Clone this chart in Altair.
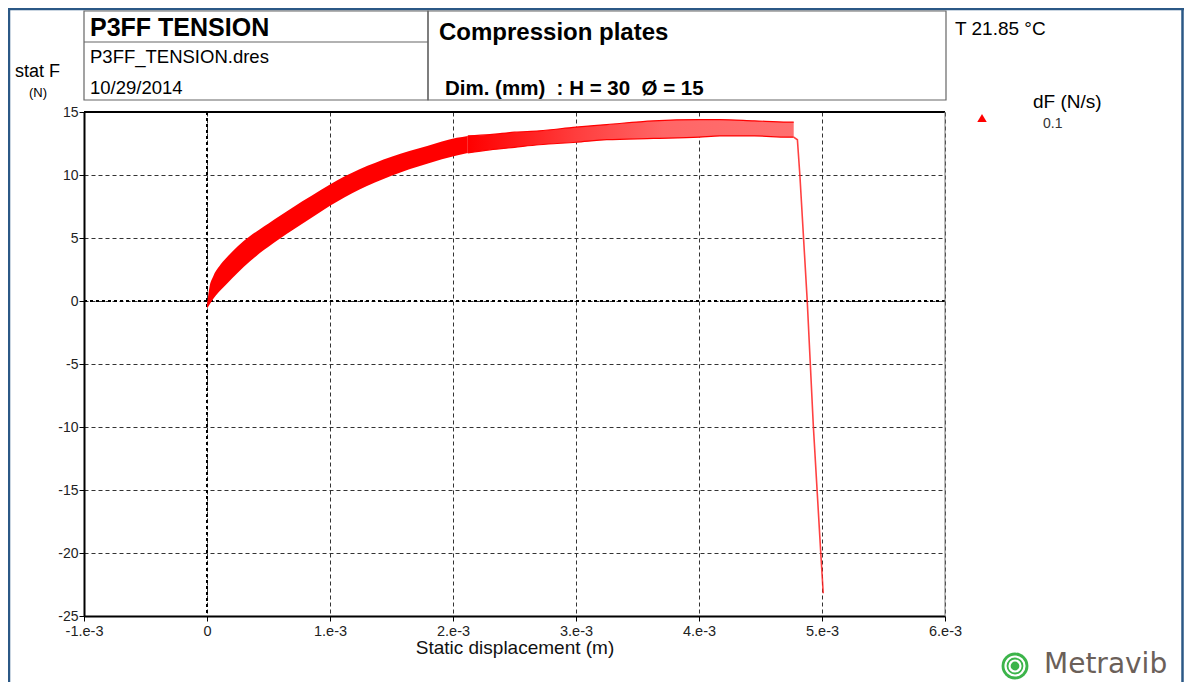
import altair as alt
import pandas as pd

# ---------------- data (x in units of 1e-3 m, y in N) ----------------
band_x = [0.00, 0.02, 0.05, 0.10, 0.16, 0.25, 0.35, 0.43, 0.50, 0.60, 0.70, 0.85, 1.00, 1.24, 1.50, 1.79, 2.03, 2.12]
band_hi = [-0.3, 1.1, 1.95, 2.75, 3.45, 4.35, 5.15, 5.7, 6.15, 6.8, 7.45, 8.35, 9.25, 10.45, 11.45, 12.3, 12.95, 13.1]
band_lo = [-0.6, -0.3, 0.15, 0.75, 1.35, 2.25, 3.15, 3.8, 4.3, 5.0, 5.65, 6.6, 7.55, 8.85, 9.95, 10.9, 11.55, 11.75]

plat_x = [2.12, 2.30, 2.50, 2.70, 3.00, 3.25, 3.63, 4.00, 4.17, 4.45, 4.72, 4.77]
plat_hi = [13.1, 13.2, 13.4, 13.5, 13.8, 14.0, 14.3, 14.4, 14.4, 14.3, 14.2, 14.2]
plat_lo = [11.75, 12.0, 12.2, 12.4, 12.6, 12.8, 12.9, 13.0, 13.1, 13.1, 13.0, 13.0]

drop_x = [4.77, 4.80, 4.82, 4.88, 4.93, 4.99, 5.01]
drop_y = [13.0, 12.8, 10.0, 0.0, -10.0, -20.0, -23.2]

x_ticks = [-1, 0, 1, 2, 3, 4, 5, 6]
y_ticks = [-25, -20, -15, -10, -5, 0, 5, 10, 15]

SCALE = 1e-3
band = pd.DataFrame({"x": [v * SCALE for v in band_x], "hi": band_hi, "lo": band_lo})
plat = pd.DataFrame({"x": [v * SCALE for v in plat_x], "hi": plat_hi, "lo": plat_lo})
drop = pd.DataFrame({"x": [v * SCALE for v in drop_x], "y": drop_y})
zero_x = pd.DataFrame({"x": [0.0]})
zero_y = pd.DataFrame({"y": [0.0]})
one = pd.DataFrame({"k": [0]})

W, H = 861, 504
FONT = "Liberation Sans"
RED = "#ff0000"

xsc = alt.Scale(domain=[x_ticks[0] * SCALE, x_ticks[-1] * SCALE], nice=False, zero=False)
ysc = alt.Scale(domain=[y_ticks[0], y_ticks[-1]], nice=False, zero=False)

xaxis = alt.Axis(
    values=[v * SCALE for v in x_ticks],
    labelExpr="datum.value == 0 ? '0' : round(datum.value * 1000) + '.e-3'",
    title="Static displacement (m)",
    titleFontSize=19, titleFontWeight="normal", titleColor="#111", titleFont=FONT,
    titleBaseline="alphabetic", titleY=37,
    labelFontSize=14.5, labelFont=FONT, labelColor="#222", labelPadding=3,
    labelOverlap=False, labelFlush=False,
    tickSize=5, tickColor="#000", tickWidth=1,
    domainColor="#000", domainWidth=2,
    grid=True, gridDash=[4, 3], gridColor="#333", gridWidth=1,
)
yaxis = alt.Axis(
    values=y_ticks, labelExpr="'' + datum.value", title=None,
    labelFontSize=14, labelFont=FONT, labelColor="#222", labelPadding=1,
    labelOverlap=False, labelFlush=False,
    tickSize=5, tickColor="#000", tickWidth=1,
    domainColor="#000", domainWidth=2,
    grid=True, gridDash=[4, 3], gridColor="#333", gridWidth=1,
)

def X(field="x"):
    return alt.X(f"{field}:Q", scale=xsc, axis=xaxis)

def Y(field):
    return alt.Y(f"{field}:Q", scale=ysc, axis=yaxis)

# zero lines (dotted, heavier)
zx = alt.Chart(zero_x).mark_rule(color="#000", strokeWidth=2, strokeDash=[3, 3]).encode(x=X())
zy = alt.Chart(zero_y).mark_rule(color="#000", strokeWidth=2, strokeDash=[3, 3]).encode(y=Y("y"))

band_area = alt.Chart(band).mark_area(color=RED, opacity=1, interpolate="monotone").encode(
    x=X(), y=Y("hi"), y2="lo:Q")

plat_grad = alt.Gradient(
    gradient="linear", x1=0, x2=1, y1=0, y2=0,
    stops=[
        alt.GradientStop(color="#ff0000", offset=0),
        alt.GradientStop(color="#ff1a1a", offset=0.15),
        alt.GradientStop(color="#ff3d3d", offset=0.33),
        alt.GradientStop(color="#ff6666", offset=0.6),
        alt.GradientStop(color="#ff7070", offset=1),
    ],
)
plat_area = alt.Chart(plat).mark_area(color=plat_grad, interpolate="monotone").encode(
    x=X(), y=Y("hi"), y2="lo:Q")
plat_top = alt.Chart(plat).mark_line(color=RED, strokeWidth=1.2, interpolate="monotone").encode(x=X(), y=Y("hi"))
plat_bot = alt.Chart(plat).mark_line(color=RED, strokeWidth=1.2, interpolate="monotone").encode(x=X(), y=Y("lo"))
drop_line = alt.Chart(drop).mark_line(color="#ff2020", strokeWidth=1.6, opacity=0.85).encode(x=X(), y=Y("y"))

# ---------------- decorations (pixel positions relative to plot area) ----------------
def txt(s, x, y, size, weight="normal", color="#000", font=FONT, align="left"):
    return alt.Chart(one).mark_text(text=s, align=align, baseline="alphabetic", fontSize=size,
                                    fontWeight=weight, color=color, font=font).encode(
        x=alt.value(x), y=alt.value(y))

def hline(x1, x2, y, color, w):
    return alt.Chart(one).mark_rule(color=color, strokeWidth=w).encode(
        x=alt.value(x1), x2=alt.value(x2), y=alt.value(y))

def vline(x, y1, y2, color, w):
    return alt.Chart(one).mark_rule(color=color, strokeWidth=w).encode(
        x=alt.value(x), y=alt.value(y1), y2=alt.value(y2))

def box(x1, y1, x2, y2, color, w):
    return alt.Chart(one).mark_rect(fillOpacity=0, stroke=color, strokeWidth=w).encode(
        x=alt.value(x1), x2=alt.value(x2), y=alt.value(y1), y2=alt.value(y2))

BLUE = "#2b5886"
NB = "\u00a0"
deco = [
    # outer frame
    hline(-76, 1100, -103, BLUE, 2.5),
    vline(-75, -104, 570, BLUE, 2.5),
    vline(1098.5, -104, 570, BLUE, 2.5),
    # plot frame top / right
    hline(0, W, 0, "#000", 2.2),
    vline(W, 0, H, "#777", 1),
    # header boxes
    box(0, -101, 344, -12, "#666", 1.2),
    hline(0, 344, -70, "#666", 1.2),
    box(344, -101, 862, -12, "#666", 1.2),
    txt("P3FF TENSION", 6, -76, 25, "bold"),
    txt("P3FF_TENSION.dres", 6, -49, 18.5),
    txt("10/29/2014", 6, -18, 18.5),
    txt("Compression plates", 355, -72, 24, "bold"),
    txt(f"Dim. (mm){NB}{NB}: H = 30{NB}{NB}\u00d8 = 15", 361, -17, 20.5, "bold"),
    txt("T 21.85 \u00b0C", 871, -77, 19),
    txt("stat F", -69, -35, 18),
    txt("(N)", -55, -15, 13),
    # legend
    txt("dF (N/s)", 949, -4, 19),
    txt("0.1", 959, 16, 14, color="#333"),
    alt.Chart(one).mark_point(shape="triangle-up", filled=True, color=RED, size=90, opacity=1).encode(
        x=alt.value(898), y=alt.value(6)),
    # logo
    alt.Chart(one).mark_point(shape="circle", filled=True, color="#3cb44a", size=720, opacity=1).encode(
        x=alt.value(931), y=alt.value(554)),
    alt.Chart(one).mark_point(shape="circle", filled=False, color="#ffffff", size=360, strokeWidth=2.2,
                              opacity=1).encode(x=alt.value(931), y=alt.value(554)),
    alt.Chart(one).mark_point(shape="circle", filled=False, color="#ffffff", size=120, strokeWidth=2.2,
                              opacity=1).encode(x=alt.value(931), y=alt.value(554)),
    txt("Metravib", 960, 561, 28, color="#6b6059", font="DejaVu Sans"),
]

chart = alt.layer(
    zx, zy, band_area, plat_area, plat_top, plat_bot, drop_line, *deco
).properties(
    width=W, height=H,
    autosize=alt.AutoSizeParams(type="none"),
    padding={"left": 76, "top": 104, "right": 239, "bottom": 66},
    background="#ffffff",
).configure_view(stroke=None)

chart.save("out.html", embed_options={"renderer": "svg", "actions": False})
